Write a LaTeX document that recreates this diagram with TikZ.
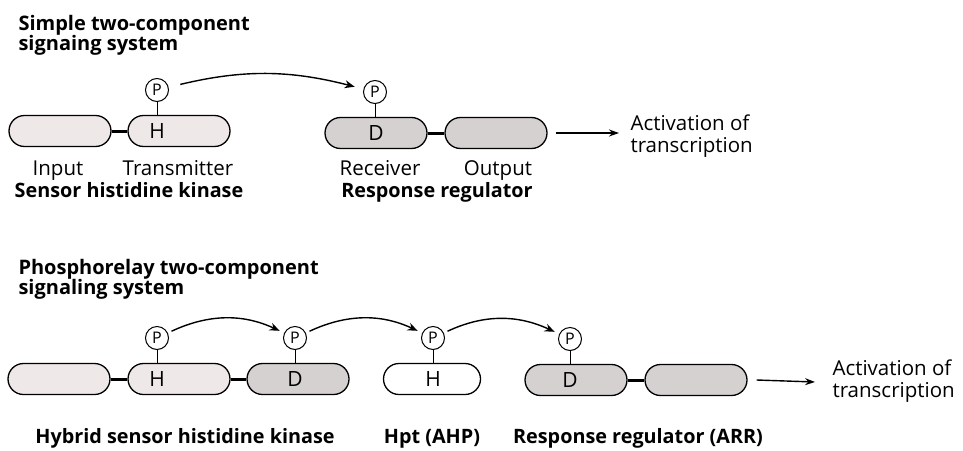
\documentclass[tikz,border=0pt]{standalone}
\usepackage{fontspec}
\setmainfont{Open Sans}
\usetikzlibrary{arrows.meta}
\definecolor{paledom}{RGB}{238,232,232}
\definecolor{greydom}{RGB}{214,209,209}
\tikzset{
  dom/.style={draw, line width=1.3pt, rounded corners=15.5pt, minimum width=102pt,
    minimum height=31pt, inner sep=0pt, fill=paledom},
  recdom/.style={dom, fill=greydom},
  hptdom/.style={dom, fill=white, minimum width=97pt},
  res/.style={font=\fontsize{21}{21}\selectfont},
  phos/.style={draw, circle, line width=1pt, inner sep=0pt, minimum size=23pt,
    fill=white, font=\fontsize{16}{16}\selectfont},
  lbl/.style={anchor=base, font=\fontsize{20.5}{22}\selectfont},
  blbl/.style={lbl, font=\bfseries\fontsize{19.8}{22}\selectfont},
  ttl/.style={anchor=base west, align=left, font=\bfseries\fontsize{20}{20}\selectfont},
  link/.style={line width=3pt},
  relay/.style={-{Stealth[length=10pt,width=8pt]}, line width=1.4pt},
  outarrow/.style={-{Stealth[length=10pt,width=7pt]}, line width=1.4pt},
}
\begin{document}
\begin{tikzpicture}[x=1pt,y=-1pt]
\useasboundingbox (0,0) rectangle (963,450);

% simple two-component system
\node[ttl] (title1) at (15,50) {Simple two-component\\signaing system};
\node[dom] (input1) at (60,131) {};
\node[dom] (trans1) at (179,131) {};
\node[res] (h1) at (157,131) {H};
\node[phos] (p1) at (157,90) {P};
\draw[line width=1pt] (p1) -- (p1 |- trans1.north);
\draw[link] (input1) -- (trans1);
\node[recdom] (rec1) at (376,133) {};
\node[res] (d1) at (376,133) {D};
\node[recdom] (out1) at (496,133) {};
\node[phos] (p2) at (375,92) {P};
\draw[line width=1pt] (p2) -- (p2 |- rec1.north);
\draw[link] (rec1) -- (out1);
\draw[relay, shorten <=12pt, shorten >=9pt] (p1) to[bend left=14] (p2);
\coordinate (act1) at (619,133);
\draw[outarrow] (out1.east) ++(8,0) coordinate (go1) -- (act1);
\node[lbl, anchor=base west] (txt1) at (627,130) {Activation of};
\node[lbl, anchor=base west] (txt2) at (627,152) {transcription};
\node[lbl] (lin) at (58,175) {Input};
\node[lbl] (ltr) at (178,175) {Transmitter};
\node[lbl] (lrec) at (380,175) {Receiver};
\node[lbl] (lout) at (498,175) {Output};
\node[blbl] (lshk) at (129,197) {Sensor histidine kinase};
\node[blbl] (lrr1) at (437,197) {Response regulator};

% phosphorelay system
\node[ttl] (title2) at (15,294) {Phosphorelay two-component\\signaling system};
\node[dom] (input2) at (59,379) {};
\node[dom] (trans2) at (179,379) {};
\node[res] (h2) at (157,379) {H};
\node[recdom] (rec2) at (298,379) {};
\node[res] (d2) at (295,379) {D};
\node[hptdom] (hpt) at (432,379) {};
\node[res] (h3) at (433,379) {H};
\node[recdom] (rec3) at (576,380) {};
\node[res] (d3) at (570,380) {D};
\node[recdom] (out3) at (696,380) {};
\draw[link] (input2) -- (trans2);
\draw[link] (trans2) -- (rec2);
\draw[link] (rec3) -- (out3);
\node[phos] (q1) at (157,338) {P};
\node[phos] (q2) at (295,338) {P};
\node[phos] (q3) at (433,338) {P};
\node[phos] (q4) at (570,339) {P};
\foreach \p/\b in {q1/trans2, q2/rec2, q3/hpt, q4/rec3}
  \draw[line width=1pt] (\p) -- (\p |- \b.north);
\draw[relay, shorten <=4pt, shorten >=5pt] (q1) to[out=25, in=155] (q2);
\draw[relay, shorten <=4pt, shorten >=5pt] (q2) to[out=25, in=155] (q3);
\draw[relay, shorten <=4pt, shorten >=5pt] (q3) to[out=25, in=155] (q4);
\coordinate (act2) at (815,382);
\draw[outarrow] (out3.east) ++(9,0) coordinate (go2) -- (act2);
\node[lbl, anchor=base west] (txt3) at (829,375) {Activation of};
\node[lbl, anchor=base west] (txt4) at (829,397) {transcription};
\node[blbl] (lhyb) at (185,443) {Hybrid sensor histidine kinase};
\node[blbl] (lhpt) at (432,443) {Hpt (AHP)};
\node[blbl] (lrr2) at (638,443) {Response regulator (ARR)};
\end{tikzpicture}
\end{document}
